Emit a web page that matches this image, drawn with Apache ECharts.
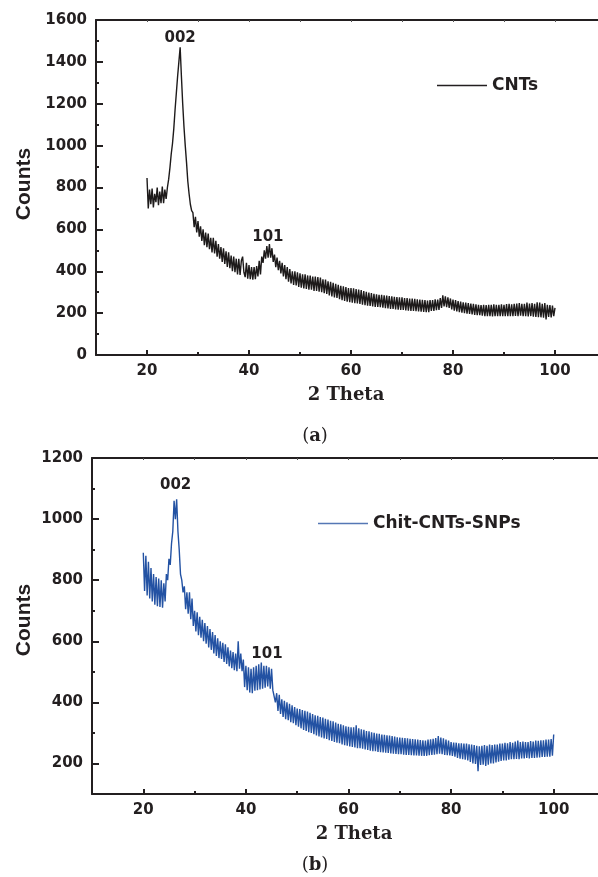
<!DOCTYPE html>
<html>
<head>
<meta charset="utf-8">
<script src="https://cdn.jsdelivr.net/npm/echarts@6/dist/echarts.min.js"></script>
<style>
html,body{margin:0;padding:0;background:#fff;overflow:hidden;}
#chart{width:598px;height:877px;}
</style>
</head>
<body>
<div id="chart"></div>
<script>
// 2θ sampling (degrees): 20 to 100 in 0.25° steps
const thetaStart = 20, thetaStep = 0.25;

// (a) CNTs counts (per degree: x.00, x.25, x.50, x.75)
const cntCounts = [
  845, 700, 790, 720,   795, 705, 770, 730,   800, 715, 780, 725,   805, 725, 790, 745,
  800, 840, 895, 960,   1010, 1080, 1170, 1250, 1330, 1400, 1470, 1330, 1200, 1090, 1000, 920,
  830, 770, 720, 690,   680, 610, 660, 585,   640, 565, 615, 545,   600, 525, 585, 515,
  580, 505, 560, 490,   560, 485, 545, 470,   530, 460, 515, 445,   510, 435, 495, 420,
  490, 415, 475, 400,   470, 395, 460, 385,   460, 382, 450, 470,   395, 372, 440, 365,
  430, 362, 420, 360,   420, 362, 425, 375,   450, 385, 470, 440,   500, 460, 520, 465,
  530, 465, 510, 445,   480, 420, 465, 405,   450, 390, 440, 375,   430, 362, 420, 350,
  410, 342, 400, 335,   400, 332, 395, 325,   390, 322, 385, 318,   385, 316, 380, 312,
  380, 312, 375, 306,   375, 306, 372, 302,   370, 300, 362, 295,   360, 292, 352, 285,
  350, 280, 345, 275,   340, 272, 335, 266,   330, 262, 328, 258,   325, 255, 320, 252,
  320, 250, 318, 248,   315, 246, 312, 244,   310, 240, 305, 238,   302, 236, 298, 234,
  296, 232, 292, 230,   290, 230, 288, 228,   287, 226, 285, 224,   284, 222, 282, 220,
  280, 220, 278, 218,   277, 216, 275, 215,   275, 215, 272, 213,   272, 212, 270, 211,
  270, 210, 268, 209,   266, 208, 265, 207,   263, 206, 262, 205,   260, 205, 262, 210,
  262, 210, 266, 214,   265, 215, 272, 225,   285, 232, 280, 228,   275, 225, 270, 218,
  265, 212, 262, 208,   258, 205, 255, 202,   252, 200, 250, 198,   248, 196, 246, 194,
  244, 192, 242, 190,   240, 190, 238, 188,   240, 186, 238, 185,   240, 185, 240, 184,
  242, 186, 240, 185,   240, 186, 242, 185,   240, 185, 243, 186,   244, 186, 242, 185,
  245, 187, 246, 185,   248, 188, 244, 186,   245, 185, 250, 184,   246, 186, 248, 183,
  245, 182, 252, 180,   250, 180, 245, 178,   248, 170, 240, 182,   238, 180, 236, 185,
  225
];

// (b) Chit-CNTs-SNPs counts
const snpCounts = [
  890, 765, 880, 750,   860, 740, 840, 730,   820, 720, 810, 715,   805, 712, 800, 710,
  790, 730, 820, 800,   870, 850, 920, 960,   1060, 1000, 1065, 960, 900, 820, 800, 760,
  780, 705, 760, 690,   760, 672, 740, 650,   700, 632, 695, 620,   680, 612, 670, 600,
  660, 592, 650, 580,   640, 572, 630, 560,   620, 552, 610, 545,   600, 542, 595, 532,
  590, 526, 580, 518,   570, 512, 565, 505,   560, 502, 600, 510,   560, 502, 540, 450,
  520, 440, 515, 432,   510, 430, 515, 438,   520, 440, 525, 442,   530, 445, 520, 448,
  520, 452, 515, 445,   510, 440, 440, 400,   430, 372, 425, 362,   410, 352, 405, 345,
  400, 342, 395, 335,   390, 332, 385, 325,   380, 320, 378, 315,   375, 310, 372, 306,
  370, 302, 366, 300,   362, 296, 358, 292,   356, 288, 352, 285,   350, 282, 346, 280,
  344, 276, 340, 274,   338, 270, 334, 268,   330, 266, 328, 262,   325, 260, 322, 258,
  320, 256, 318, 254,   318, 252, 325, 250,   315, 250, 312, 248,   310, 246, 306, 244,
  305, 242, 302, 240,   300, 240, 298, 238,   297, 237, 295, 236,   294, 235, 292, 234,
  291, 233, 290, 232,   288, 231, 286, 230,   285, 230, 284, 229,   283, 228, 282, 228,
  281, 227, 280, 226,   279, 226, 278, 225,   277, 225, 276, 225,   275, 225, 278, 227,
  279, 228, 281, 229,   283, 230, 290, 232,   285, 230, 282, 228,   278, 227, 275, 226,
  270, 225, 268, 222,   268, 218, 266, 216,   266, 214, 265, 212,   265, 210, 263, 205,
  262, 200, 260, 198,   258, 175, 256, 195,   258, 196, 260, 192,   258, 196, 262, 200,
  260, 200, 262, 203,   262, 206, 265, 208,   265, 210, 268, 210,   266, 212, 270, 214,
  268, 214, 272, 215,   275, 214, 270, 216,   272, 216, 270, 218,   270, 216, 273, 218,
  272, 218, 275, 219,   274, 220, 276, 221,   276, 221, 278, 222,   278, 222, 280, 225,
  295
];

// axis ticks / labels
const xLabelsVals = [20, 40, 60, 80, 100];
const xMinorVals = [30, 50, 70, 90];
const xBorderVals = [20, 30, 40, 50, 60, 70, 80, 90, 100];
const yaMajor = [0, 200, 400, 600, 800, 1000, 1200, 1400, 1600];
const yaMinor = [100, 300, 500, 700, 900, 1100, 1300, 1500];
const ybMajor = [200, 400, 600, 800, 1000, 1200];
const ybMinor = [300, 500, 700, 900, 1100];

const toPairs = arr => arr.map((v, i) => [thetaStart + i * thetaStep, v]);

const AX = '#231f20';
const LBL = {fontFamily: 'DejaVu Sans', fontWeight: 'bold', fontSize: 15, color: '#231f20',
  formatter: v => String(v)};
const X_MIN = 10, X_MAX = 110;

function mainX(grid) {
  return [
    {gridIndex: grid, type: 'value', min: X_MIN, max: X_MAX, position: 'bottom',
     axisLine: {show: true, onZero: false, lineStyle: {color: AX, width: 2}},
     axisTick: {show: true, inside: true, length: 5, customValues: xLabelsVals, lineStyle: {color: AX, width: 2}},
     axisLabel: {show: true, customValues: xLabelsVals, margin: 9, ...LBL},
     splitLine: {show: false}},
    {gridIndex: grid, type: 'value', min: X_MIN, max: X_MAX, position: 'top',
     axisLine: {show: true, onZero: false, lineStyle: {color: AX, width: 2}},
     axisTick: {show: true, inside: true, length: 2, customValues: xBorderVals, lineStyle: {color: '#555', width: 1}},
     axisLabel: {show: false}, splitLine: {show: false}}
  ];
}
function minorX(grid) {
  return [{gridIndex: grid, type: 'value', min: X_MIN, max: X_MAX, position: 'bottom',
    axisLine: {show: false},
    axisTick: {show: true, inside: true, length: 3, customValues: xMinorVals, lineStyle: {color: AX, width: 2}},
    axisLabel: {show: false}, splitLine: {show: false}}];
}
function mainY(grid, min, max, major) {
  return [{gridIndex: grid, type: 'value', min: min, max: max, position: 'left',
    axisLine: {show: true, onZero: false, lineStyle: {color: AX, width: 2}},
    axisTick: {show: true, inside: true, length: 7, customValues: major, lineStyle: {color: AX, width: 2}},
    axisLabel: {show: true, customValues: major, margin: 9, ...LBL},
    splitLine: {show: false}}];
}
function minorY(grid, min, max, minor) {
  return [{gridIndex: grid, type: 'value', min: min, max: max, position: 'left',
    axisLine: {show: false},
    axisTick: {show: true, inside: true, length: 3, customValues: minor, lineStyle: {color: AX, width: 2}},
    axisLabel: {show: false}, splitLine: {show: false}}];
}

const annLabel = {show: true, position: 'inside', color: '#231f20',
  fontFamily: 'DejaVu Sans', fontWeight: 'bold', fontSize: 15};

const gridA = {left: 96, top: 20, width: 510, height: 335, outerBoundsMode: 'none', containLabel: false};
const gridB = {left: 92, top: 458, width: 513, height: 336, outerBoundsMode: 'none', containLabel: false};

const chart = echarts.init(document.getElementById('chart'), null, {renderer: 'canvas'});
chart.setOption({
  animation: false,
  backgroundColor: '#fff',
  grid: [gridA, {...gridA}, gridB, {...gridB}],
  xAxis: [...mainX(0), ...minorX(1), ...mainX(2), ...minorX(3)],
  yAxis: [...mainY(0, 0, 1600, yaMajor), ...minorY(1, 0, 1600, yaMinor),
          ...mainY(2, 100, 1200, ybMajor), ...minorY(3, 100, 1200, ybMinor)],
  legend: [
    {data: ['CNTs'], left: 432, top: 72, icon: 'rect', itemWidth: 50, itemHeight: 1.5,
     selectedMode: false, itemStyle: {color: '#231f20'},
     textStyle: {fontFamily: 'DejaVu Sans', fontWeight: 'bold', fontSize: 17, color: '#231f20'}},
    {data: ['Chit-CNTs-SNPs'], left: 313, top: 510, icon: 'rect', itemWidth: 50, itemHeight: 1.5,
     selectedMode: false, itemStyle: {color: '#5577b5'},
     textStyle: {fontFamily: 'DejaVu Sans', fontWeight: 'bold', fontSize: 17, color: '#231f20'}}
  ],
  series: [
    {name: 'CNTs', type: 'line', xAxisIndex: 0, yAxisIndex: 0, data: toPairs(cntCounts),
     symbol: 'none', sampling: false, lineStyle: {color: '#1d1a1a', width: 1.4},
     itemStyle: {color: '#1d1a1a'},
     markPoint: {symbol: 'circle', symbolSize: 1, itemStyle: {color: 'rgba(0,0,0,0)'}, label: annLabel,
       data: [{coord: [26.5, 1514], value: '002', label: {formatter: '002'}},
              {coord: [43.7, 561], value: '101', label: {formatter: '101'}}]}},
    {name: 'Chit-CNTs-SNPs', type: 'line', xAxisIndex: 3, yAxisIndex: 2, data: toPairs(snpCounts),
     symbol: 'none', sampling: false, lineStyle: {color: '#2352a3', width: 1.4},
     itemStyle: {color: '#2352a3'},
     markPoint: {symbol: 'circle', symbolSize: 1, itemStyle: {color: 'rgba(0,0,0,0)'}, label: annLabel,
       data: [{coord: [26.3, 1110], value: '002', label: {formatter: '002'}},
              {coord: [44.1, 558], value: '101', label: {formatter: '101'}}]}}
  ],
  graphic: [
    {type: 'text', x: 24, y: 184, rotation: Math.PI / 2,
     style: {text: 'Counts', fill: '#231f20', font: 'bold 21px "Liberation Sans", Arial', align: 'center', verticalAlign: 'middle'}},
    {type: 'text', x: 24, y: 620, rotation: Math.PI / 2,
     style: {text: 'Counts', fill: '#231f20', font: 'bold 21px "Liberation Sans", Arial', align: 'center', verticalAlign: 'middle'}},
    {type: 'text', x: 346, y: 395,
     style: {text: '2 Theta', fill: '#231f20', font: 'bold 18px "DejaVu Serif"', align: 'center', verticalAlign: 'middle'}},
    {type: 'text', x: 354, y: 834,
     style: {text: '2 Theta', fill: '#231f20', font: 'bold 18px "DejaVu Serif"', align: 'center', verticalAlign: 'middle'}},
    {type: 'text', x: 315, y: 436,
     style: {text: '{p|(}{b|a}{p|)}', align: 'center', verticalAlign: 'middle',
       rich: {p: {fontFamily: 'DejaVu Serif', fontSize: 18, fill: '#231f20'},
              b: {fontFamily: 'DejaVu Serif', fontSize: 18, fontWeight: 'bold', fill: '#231f20'}}}},
    {type: 'text', x: 315, y: 865,
     style: {text: '{p|(}{b|b}{p|)}', align: 'center', verticalAlign: 'middle',
       rich: {p: {fontFamily: 'DejaVu Serif', fontSize: 18, fill: '#231f20'},
              b: {fontFamily: 'DejaVu Serif', fontSize: 18, fontWeight: 'bold', fill: '#231f20'}}}},
    // blank strip at the right edge (the frame's right side lies outside the page)
    {type: 'rect', z: 100, shape: {x: 592, y: 22, width: 6, height: 331}, style: {fill: '#fff'}},
    {type: 'rect', z: 100, shape: {x: 592, y: 460, width: 6, height: 332}, style: {fill: '#fff'}}
  ]
});
</script>
</body>
</html>
